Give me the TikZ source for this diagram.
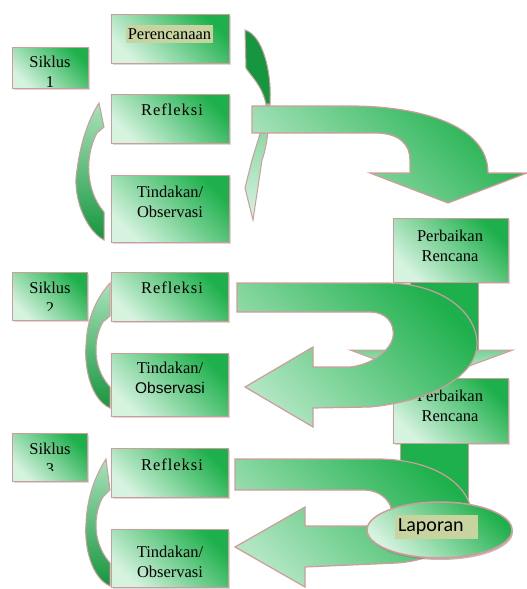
\documentclass[tikz,border=0pt]{standalone}
\usepackage{fontspec}
\setmainfont{Liberation Serif}
\newfontfamily\sansA{Liberation Sans}
\newfontfamily\sansB{Carlito}
\newfontfamily\wideserif[LetterSpace=6]{Liberation Serif}
\usetikzlibrary{positioning,shadows,shapes.geometric}
\definecolor{gdark}{RGB}{30,176,76}
\definecolor{gdeep}{RGB}{22,150,62}
\definecolor{gmid}{RGB}{120,210,150}
\definecolor{glight}{RGB}{214,243,224}
\definecolor{rim}{RGB}{210,155,155}
\definecolor{hilite}{RGB}{200,212,160}

\begin{document}
\begin{tikzpicture}[x=1pt,y=-1pt,
  box/.style={draw=rim,line width=1.2pt,top color=gdark,bottom color=glight,shading angle=-45,
    anchor=north west,inner sep=0pt,minimum width=118pt,minimum height=49pt,
    drop shadow={shadow xshift=1pt,shadow yshift=-1.5pt,opacity=.3}},
  txt/.style={font=\fontsize{16.5}{20}\selectfont,align=center,inner sep=0pt},
  bigarrow/.style={draw=rim,line width=1.2pt,top color=gdark,bottom color=glight!60!gmid,shading angle=-45},
  sidearrow/.style={draw=rim,line width=1pt,top color=glight!50!gmid,middle color=gmid,bottom color=gdeep}]

\useasboundingbox (0,0) rectangle (527,589);

% siklus 1
\node[box,minimum width=76pt,minimum height=41pt] (sik1) at (12,47) {};
\node[box] (per) at (111,14) {};
\node[box] (ref1) at (111,94) {};
\node[box,minimum height=67pt] (tin1) at (111,175) {};
\node[txt] (sik1t) at (50,72) {Siklus\\1};
\node[txt,fill=hilite,minimum width=87pt,minimum height=18pt] (pert) at (169.5,34) {Perencanaan};
\node[txt] (ref1t) at (172,110) {\wideserif Refleksi};
\node[txt] (tin1t) at (170,202) {Tindakan/\\Observasi};
\draw[sidearrow] (104,240) .. controls (85,230) and (72,195) .. (77,170) .. controls (80,145) and (88,120) .. (99,103)
  -- (104,127) -- (97,133) .. controls (85,155) and (85,190) .. (104,212) -- cycle;

% siklus 2
\node[box,minimum width=75pt,minimum height=48pt] (sik2) at (12,272) {};
\node[box,minimum width=117pt] (ref2) at (111,272) {};
\node[box,minimum width=117pt,minimum height=63pt] (tin2) at (111,353) {};
\begin{scope}
\clip (12,272) rectangle (87,310);
\node[txt] (sik2t) at (50,298) {Siklus\\2};
\end{scope}
\node[txt] (ref2t) at (172,288) {\wideserif Refleksi};
\node[txt] (tin2t) at (170,378) {Tindakan/\\{\sansA\fontsize{15.5}{20}\selectfont Observasi}};
\draw[sidearrow] (110,408) .. controls (92,400) and (84,370) .. (86,345) .. controls (87,320) and (95,300) .. (110,283)
  -- (110,316) -- (103,322) .. controls (95,335) and (90,365) .. (110,387) -- cycle;

% siklus 3
\node[box,minimum width=75pt,minimum height=48pt] (sik3) at (12,433) {};
\node[box,minimum width=117pt] (ref3) at (111,448) {};
\node[box,minimum width=117pt,minimum height=58pt] (tin3) at (111,529) {};
\begin{scope}
\clip (12,433) rectangle (87,470);
\node[txt] (sik3t) at (50,459) {Siklus\\3};
\end{scope}
\node[txt] (ref3t) at (172,465) {\wideserif Refleksi};
\node[txt] (tin3t) at (170,562) {Tindakan/\\Observasi};
\draw[sidearrow] (110,586) .. controls (92,578) and (84,548) .. (86,523) .. controls (87,498) and (95,476) .. (106,459)
  -- (110,490) -- (103,497) .. controls (95,510) and (90,540) .. (110,563) -- cycle;

% perencanaan ke tindakan
\draw[draw=rim,line width=1pt,fill=gdeep] (245,30) .. controls (262,35) and (272,70) .. (270,104) -- (266,104)
  .. controls (262,85) and (250,75) .. (246,68) -- cycle;
\draw[draw=rim,line width=1pt,top color=gmid,bottom color=glight] (270,104) .. controls (269,130) and (266,150) .. (262,160)
  -- (253,220) -- (245,188) -- (252,160) .. controls (258,140) and (265,120) .. (266,104) -- cycle;

% refleksi ke perbaikan rencana
\draw[bigarrow] (252,106) -- (350,106) .. controls (420,106) and (488,125) .. (488,173) -- (527,173) -- (448,203)
  -- (370,173) -- (410,173) -- (410,160) .. controls (410,145) and (400,133) .. (375,133) -- (252,133) -- cycle;

\node[box,minimum width=115pt,minimum height=64pt] (pr1) at (393,218) {};
\node[txt] (pr1t) at (450,246) {Perbaikan\\Rencana};

\draw[draw=rim,line width=1pt,fill=gdark] (410,282) -- (478,282) -- (478,350) -- (410,350) -- cycle;
\draw[draw=rim,line width=1pt,top color=gmid,bottom color=glight] (350,350) -- (513,350) -- (431,380) -- cycle;

\node[box,minimum width=115pt,minimum height=65pt] (pr2) at (393,378) {};
\node[txt] (pr2t) at (450,405.5) {Perbaikan\\Rencana};

\draw[bigarrow] (237,283) -- (385,283) .. controls (445,283) and (478,315) .. (477,345) .. controls (476,372) and (440,400) .. (370,407)
  -- (313,408) -- (313,427) -- (245,387) -- (313,347) -- (313,367) -- (350,367)
  .. controls (370,365) and (390,352) .. (393,337) .. controls (395,322) and (385,312) .. (370,312) -- (237,312) -- cycle;

% ke laporan
\draw[draw=rim,line width=1pt,fill=gdark] (400,443) -- (468,443) -- (468,520) -- (400,520) -- cycle;

\draw[bigarrow] (235,459) -- (380,459) .. controls (430,460) and (462,480) .. (470,505) .. controls (478,535) and (440,560) .. (397,563)
  -- (305,567) -- (305,587) -- (235,547) -- (305,507) -- (305,526) -- (365,526)
  .. controls (385,525) and (395,515) .. (390,505) .. controls (385,495) and (375,490) .. (363,490) -- (235,490) -- cycle;

\node[ellipse,draw=rim,line width=1.5pt,top color=gdark,bottom color=glight,shading angle=-45,
  minimum width=145pt,minimum height=56pt,inner sep=0pt,
  drop shadow={shadow xshift=1pt,shadow yshift=-2pt,fill=rim!70!black,opacity=.5}] (lap) at (439.5,530) {};
\node[fill=hilite,font=\sansB\fontsize{20}{22}\selectfont,text width=77pt,align=left,inner xsep=3pt,
  inner ysep=0pt,minimum height=24pt] (lapt) at (436.5,527) {Laporan};

\end{tikzpicture}
\end{document}
